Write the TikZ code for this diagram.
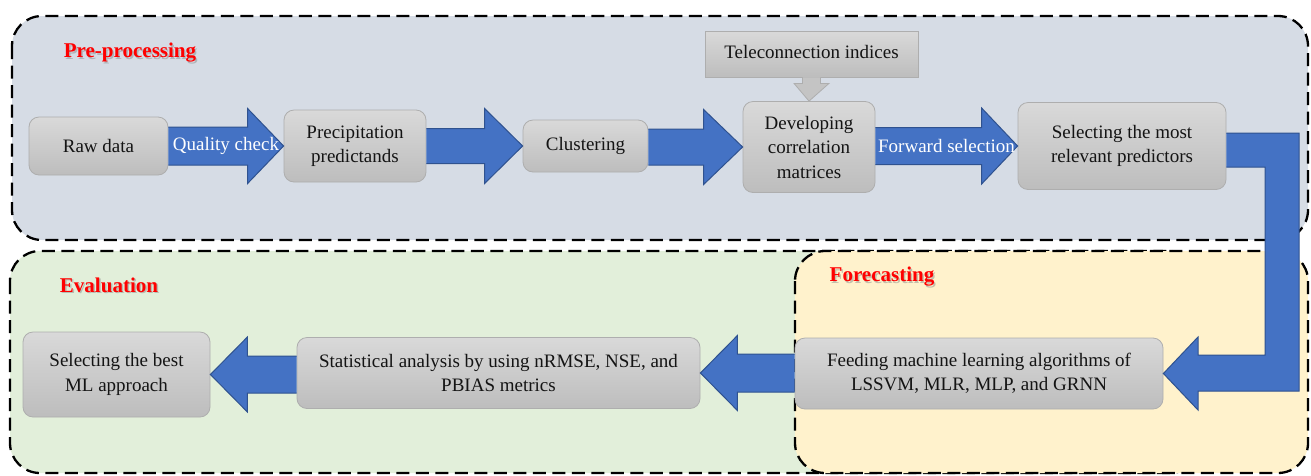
\documentclass[tikz,border=0pt]{standalone}
\usepackage{fontspec}
\setmainfont{Liberation Serif}
\usetikzlibrary{calc}
\definecolor{prefill}{HTML}{D6DCE5}
\definecolor{evalfill}{HTML}{E2EFDA}
\definecolor{forefill}{HTML}{FFF2CC}
\definecolor{procTop}{HTML}{D9D9D9}
\definecolor{procBot}{HTML}{BDBDBD}
\definecolor{procEdge}{HTML}{AEAEAE}
\definecolor{arrowblue}{HTML}{4472C4}
\definecolor{arrowedge}{HTML}{2F528F}
\definecolor{labelred}{HTML}{FF0000}
\definecolor{textdark}{HTML}{141414}
\tikzset{
  region/.style={draw=black, line width=2.3pt, dash pattern=on 13pt off 6.5pt, rounded corners=30pt},
  proc/.style={draw=procEdge, line width=0.8pt, rounded corners=10pt, top color=procTop, bottom color=procBot,
    align=center, font=\fontsize{19}{24.5}\selectfont, text=textdark, inner sep=2pt},
  telebox/.style={draw=procEdge, line width=0.8pt, top color=procTop, bottom color=procBot,
    align=center, font=\fontsize{19}{24.5}\selectfont, text=textdark, inner sep=2pt},
  barrow/.style={fill=arrowblue, draw=arrowedge, line width=1pt, line join=miter},
  grayarrow/.style={fill=procBot!90!white, draw=procEdge, line width=0.8pt},
  phase/.style={text=labelred, font=\bfseries\fontsize{21}{24}\selectfont},
  phaseshadow/.style={text=black!45, opacity=0.5, font=\bfseries\fontsize{21}{24}\selectfont},
  flowlabel/.style={text=white, font=\fontsize{19}{24}\selectfont, inner sep=0pt},
}
% right-pointing block arrow from #1 to #2: shaft half #3, head half #4, head length #5
\newcommand\rblockarrow[5]{%
  \draw[barrow] ($(#1.east |- #2.west)+(0,-#3)$) -- ($(#2.west)+(-#5,-#3)$) -- ($(#2.west)+(-#5,-#4)$) -- (#2.west)
    -- ($(#2.west)+(-#5,#4)$) -- ($(#2.west)+(-#5,#3)$) -- ($(#1.east |- #2.west)+(0,#3)$);}
% left-pointing block arrow from #1 to #2
\newcommand\lblockarrow[5]{%
  \draw[barrow] ($(#1.west |- #2.east)+(0,-#3)$) -- ($(#2.east)+(#5,-#3)$) -- ($(#2.east)+(#5,-#4)$) -- (#2.east)
    -- ($(#2.east)+(#5,#4)$) -- ($(#2.east)+(#5,#3)$) -- ($(#1.west |- #2.east)+(0,#3)$);}
\begin{document}
\begin{tikzpicture}[x=1pt,y=-1pt]
\useasboundingbox (0,0) rectangle (1311,475);
% regions
\draw[region, fill=prefill] (12,16) rectangle (1308,240);
\draw[region, fill=evalfill] (10,251) rectangle (1200,473);
\draw[region, fill=forefill] (795,251) rectangle (1308,473);

% phase labels
\node[phaseshadow] (preshadow) at (131.5,54.5) {Pre-processing};
\node[phase] (prelabel) at (130,53) {Pre-processing};
\node[phaseshadow] (evalshadow) at (110.5,286.5) {Evaluation};
\node[phase] (evallabel) at (109,285) {Evaluation};
\node[phaseshadow] (foreshadow) at (883.5,278.5) {Forecasting};
\node[phase] (forelabel) at (882,277) {Forecasting};

% process nodes
\node[proc, minimum width=139pt, minimum height=58pt] (raw) at (98.5,146) {Raw data};
\node[proc, minimum width=142pt, minimum height=72pt] (precip) at (355,146) {Precipitation\\predictands};
\node[proc, minimum width=125pt, minimum height=52pt] (clust) at (585.5,146) {Clustering};
\node[proc, minimum width=132pt, minimum height=91pt] (dev) at (809,147) {Developing\\correlation\\matrices};
\node[proc, minimum width=208pt, minimum height=87pt] (sel) at (1122,146) {Selecting the most\\relevant predictors};
\node[telebox, minimum width=213pt, minimum height=46pt] (tele) at (811.5,54) {\raisebox{4pt}{Teleconnection indices}};
\node[proc, minimum width=368pt, minimum height=71pt] (feed) at (979,373.5) {Feeding machine learning algorithms of\\LSSVM, MLR, MLP, and GRNN};
\node[proc, minimum width=403pt, minimum height=71pt] (stat) at (498.5,373) {Statistical analysis by using nRMSE, NSE, and\\PBIAS metrics};
\node[proc, minimum width=187pt, minimum height=85pt] (best) at (116.5,374.5) {Selecting the best\\ML approach};

% gray arrow from teleconnection indices
\draw[grayarrow] ($(tele.south)+(-9,0)$) -- ($(tele.south)+(-9,6)$) -- ($(tele.south)+(-17.5,6)$) -- (dev.north)
  -- ($(tele.south)+(17.5,6)$) -- ($(tele.south)+(9,6)$) -- ($(tele.south)+(9,0)$);

% blue block arrows, top row
\rblockarrow{raw}{precip}{19}{37.5}{36}
\rblockarrow{precip}{clust}{17.5}{37.5}{38}
\rblockarrow{clust}{dev}{18}{37.5}{39}
\rblockarrow{dev}{sel}{18.5}{38}{36}

% L-shaped arrow
\coordinate (outerTop) at (1299,133);
\coordinate (outerBot) at (1299,391);
\coordinate (innerTop) at (1265,167);
\coordinate (innerBot) at (1265,355);
\draw[barrow] ($(sel.east)+(0,-13)$) -- (outerTop) -- (outerBot) -- (1198,391) -- (1198,410)
  -- (feed.east) -- (1198,337) -- (1198,355) -- (innerBot) -- (innerTop) -- ($(sel.east)+(0,21)$);

% bottom row arrows
\lblockarrow{feed}{stat}{19}{37.5}{37}
\lblockarrow{stat}{best}{18.5}{37.5}{37}

% arrow labels
\node[flowlabel] (qc) at ($(raw.east)!0.5!(precip.west)$) {Quality check};
\node[flowlabel] (fs) at ($(dev.east)!0.5!(sel.west)+(0,-1)$) {Forward selection};
\end{tikzpicture}
\end{document}
